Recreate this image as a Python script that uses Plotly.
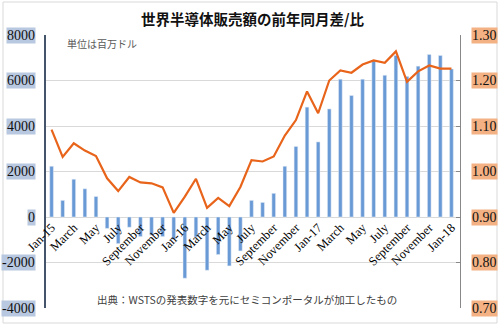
import plotly.graph_objects as go

# Monthly categories, Jan 2015 – Jan 2018
months = [f"{m}-{y}" for y in ("15", "16", "17") for m in
          ("Jan", "Feb", "Mar", "Apr", "May", "Jun", "Jul", "Aug", "Sep", "Oct", "Nov", "Dec")] + ["Jan-18"]

# Year-on-year difference (million USD)
yoy_diff = [2230, 730, 1660, 1240, 900, -500, -1170, -450, -860, -800, -860, -980,
            -2690, -880, -2340, -1650, -2150, -1490, 730, 640, 1040, 2230, 3100, 4830,
            3300, 4750, 6060, 5340, 6060, 6880, 6230, 7100, 6180, 6630, 7140, 7100,
            6510]

# Year-on-year ratio
yoy_ratio = [1.092, 1.032, 1.062, 1.046, 1.034, 0.985, 0.957, 0.988, 0.976, 0.974, 0.965, 0.909,
             0.945, 0.984, 0.920, 0.942, 0.924, 0.966, 1.025, 1.022, 1.033, 1.079, 1.113, 1.176,
             1.128, 1.200, 1.222, 1.217, 1.235, 1.244, 1.239, 1.264, 1.197, 1.220, 1.233, 1.226,
             1.226]

x_tick_labels = ["Jan-15", "March", "May", "July", "September", "November",
                 "Jan-16", "March", "May", "July", "September", "November",
                 "Jan-17", "March", "May", "July", "September", "November", "Jan-18"]
left_ticks = [8000, 6000, 4000, 2000, 0, -2000, -4000]
right_ticks = [1.30, 1.20, 1.10, 1.00, 0.90, 0.80, 0.70]

title_text = "世界半導体販売額の前年同月差/比"
unit_text = "単位は百万ドル"
source_text = "出典：WSTSの発表数字を元にセミコンポータルが加工したもの"

SERIF = "Liberation Serif, Times New Roman, serif"
CJK = "Noto Sans CJK JP"

fig = go.Figure()
fig.add_trace(go.Bar(x=months, y=yoy_diff, marker_color="#6a9ad6", width=0.33,
                     yaxis="y", showlegend=False))
fig.add_trace(go.Scatter(x=months, y=yoy_ratio, mode="lines",
                         line=dict(color="#e8641b", width=2.2), yaxis="y2", showlegend=False))

annotations = []
# Highlighted left-axis labels
for v in left_ticks:
    annotations.append(dict(x=0, xref="paper", y=v, yref="y", text=str(v),
                            xanchor="right", yanchor="middle", xshift=-10, showarrow=False,
                            font=dict(family=SERIF, size=14, color="#111"),
                            bgcolor="#b8c8e0", borderpad=0))
# Highlighted right-axis labels
for v in right_ticks:
    annotations.append(dict(x=1, xref="paper", y=v, yref="y2", text=f"{v:.2f}",
                            xanchor="left", yanchor="middle", xshift=11, showarrow=False,
                            font=dict(family=SERIF, size=14, color="#111"),
                            bgcolor="#f4b183", borderpad=0))
annotations += [
    dict(x=0.5, xref="paper", y=1.0, yref="paper", yshift=17, text=f"<b>{title_text}</b>",
         showarrow=False, xanchor="center", yanchor="middle",
         font=dict(family=CJK, size=14.5, color="#111")),
    dict(x=0.047, xref="paper", y=0.97, yref="paper", text=unit_text, showarrow=False,
         xanchor="left", yanchor="middle", font=dict(family=CJK, size=10, color="#595959")),
    dict(x=0.485, xref="paper", y=0.03, yref="paper", text=source_text, showarrow=False,
         xanchor="center", yanchor="middle", font=dict(family=CJK, size=10.5, color="#404040")),
]

fig.update_layout(
    width=500, height=326,
    margin=dict(l=46, r=40, t=35, b=18),
    paper_bgcolor="white", plot_bgcolor="white",
    bargap=0.67,
    xaxis=dict(type="category", domain=[0, 411 / 414], anchor="free", position=1 / 3,
               tickmode="array", tickvals=months[::2], ticktext=x_tick_labels,
               tickangle=-45, tickfont=dict(family=SERIF, size=12.5, color="#000"),
               showline=False, showgrid=False, ticks="", range=[-0.5, 36.5]),
    yaxis=dict(range=[-4000, 8000], tickvals=left_ticks, showticklabels=False,
               showgrid=True, gridcolor="#d9d9d9", gridwidth=1, zeroline=False,
               showline=True, linecolor="#44546a", linewidth=1.5, ticks=""),
    yaxis2=dict(range=[0.70, 1.30], tickvals=right_ticks, showticklabels=False,
                overlaying="y", side="right", anchor="free", position=1,
                showgrid=False, zeroline=False, showline=True, linecolor="#888888",
                linewidth=1, ticks="inside", ticklen=4, tickcolor="#888888"),
    annotations=annotations,
    shapes=[dict(type="rect", xref="paper", yref="paper",
                 x0=-43 / 414, x1=451 / 414, y0=-15 / 273, y1=306 / 273,
                 line=dict(color="#d9d9d9", width=1), fillcolor="rgba(0,0,0,0)")],
)

fig.write_html("out.html")
